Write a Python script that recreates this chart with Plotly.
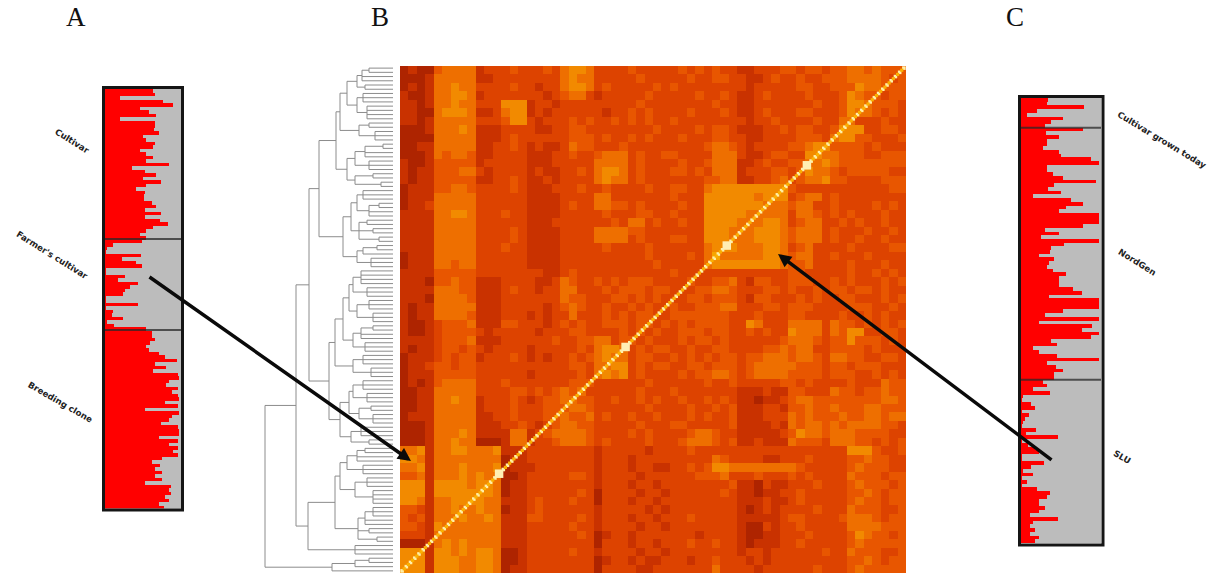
import plotly.graph_objects as go

W, H = 1220, 573

# ---- Panel A: membership (percent red) ----
A_groups = ["Cultivar", "Farmer's cultivar", "Breeding clone"]
A_cultivar = [63,65,19,76,89,46,58,67,20,65,65,64,70,50,53,65,63,46,54,63,54,83,35,52,67,50,73,54,41,52,51,51,62,67,52,73,52,72,82,63,54,46,54]
A_farmer = [48,11,2,1,47,22,41,49,1,1,26,17,43,33,26,24,1,1,43,1,10,9,23,2,12,54]
A_breeding = [61,61,65,59,54,58,70,78,94,65,80,63,96,97,83,80,96,87,96,97,78,96,52,97,87,83,73,96,97,97,70,96,83,96,89,96,74,61,72,65,75,65,74,52,86,83,86,78,83,70,77]

# ---- Panel C: membership (percent red) ----
C_groups = ["Cultivar grown today", "NordGen", "SLU"]
C_today = [34,32,79,20,7,52,38,30]
C_nordgen = [77,31,48,32,33,28,48,50,87,98,33,32,40,52,94,41,34,50,15,62,77,56,47,98,98,98,77,30,48,25,98,54,38,36,23,41,35,32,40,56,47,48,47,65,76,35,98,98,98,52,30,98,23,89,76,98,87,38,45,15,22,45,98,32,44,52,41,41]
C_slu = [28,33,15,36,3,1,12,17,1,10,5,3,1,19,6,46,1,9,18,22,1,1,29,12,3,15,1,8,1,20,36,32,22,23,30,22,11,46,15,11,18,11,22,18]

# ---- Panel B: kinship heat map, levels (top row first) ----
heat_rows = [
"1211 45555 233 343 3343 5665 3333 4333 334343 433 223334 43443 44554 5444",
"1112 55555 223 333 3333 5655 3333 3433 333433 443 322343 34334 44555 5434",
"1212 55655 333 343 3233 5665 3433 3334 343333 333 323333 34433 44465 5444",
"2112 55665 233 333 3323 4553 2333 3343 333343 343 223433 33433 34654 4344",
"2212 55655 333 666 2332 3333 3333 3433 333333 433 223333 33343 34665 4443",
"2211 56665 223 566 2323 3333 3233 4343 333433 343 223433 34433 34655 4343",
"2212 55555 333 466 3233 3434 3343 4343 343333 333 323343 33343 35533 3433",
"1112 55565 222 333 3223 3443 3333 3334 333343 443 222334 34433 46663 3443",
"1111 55555 222 343 3333 3444 3433 4343 334333 443 322333 34443 56644 3334",
"1122 55555 223 343 2322 3544 3334 3333 333334 554 323333 44566 44443 4333",
"1112 54554 223 333 2223 3433 4555 3433 443333 555 322344 33665 54443 3444",
"2112 44444 233 333 2223 3333 5555 3433 334334 555 223433 44556 54444 4444",
"2122 44455 323 333 2322 3343 5665 3433 344343 555 233344 34655 43444 4433",
"2122 44444 223 343 2232 3333 5655 3433 333334 455 223345 34556 44333 3444",
"1222 44554 333 343 2223 3343 3433 3343 344335 666 666666 43333 33333 3344",
"1222 55555 333 333 2222 3333 5533 3333 343336 666 665666 34553 43333 3333",
"1223 55555 333 333 2222 3433 5544 3433 334336 666 666555 45533 43333 4343",
"2222 55665 333 433 2222 3333 3433 3443 343336 666 655555 35543 43433 3433",
"2222 55555 333 333 2223 3333 3343 5534 334336 666 555665 34553 34343 3433",
"2222 55555 333 343 2222 3333 5555 4433 333336 665 556665 45553 43334 3343",
"2222 55555 333 343 2222 3333 5555 3433 344336 665 556665 45553 43343 3433",
"2222 55555 333 433 2222 3333 3433 3343 333335 666 555665 34533 33433 3344",
"1222 55555 333 333 2222 3333 3333 3343 333435 755 555665 45533 43334 3333",
"1222 55455 333 333 2222 3333 3333 3334 333335 666 666665 44533 33433 3433",
"2222 44444 333 333 3322 3433 3333 3333 343333 333 333333 44333 33433 4343",
"2221 44544 222 333 3223 5433 4343 4443 333433 445 324433 44433 43433 3434",
"2222 55544 222 343 3233 5533 3434 4434 433344 554 333443 43343 44344 3433",
"2221 55554 222 333 3333 5443 3344 3434 333443 444 324433 34343 34433 3434",
"2122 55555 222 333 3323 4543 3433 4343 343344 455 333443 44433 33444 3343",
"2122 55554 222 333 2323 3533 3434 3443 344444 443 334333 44333 34334 3433",
"2112 34445 222 443 3323 4343 3444 3443 434344 443 365333 55553 54434 3434",
"2112 34444 323 333 3233 3443 3334 3434 334443 443 343433 65553 54663 3443",
"2222 34445 222 333 3334 3344 5534 4343 334344 343 333334 55543 44644 4343",
"2122 34434 323 333 2333 3343 5665 3434 433433 443 333445 45533 44443 4333",
"1222 34344 233 343 2323 3434 5655 3443 343434 344 344555 45543 55443 3443",
"1223 44344 333 333 3333 3443 5566 3434 433443 444 345555 54443 44344 4333",
"1222 44444 333 333 2333 3343 5656 3433 334344 554 345555 44443 44433 4343",
"1212 45555 333 433 3333 3444 3333 3343 333334 334 333334 43433 33433 3544",
"1122 55555 333 344 3434 5453 3333 3433 343333 333 222322 44333 54434 4544",
"1122 55655 233 343 2344 5544 3343 3434 334334 343 221223 45544 44444 4554",
"1122 55555 233 343 3344 4554 3333 3343 333433 434 222332 44544 54445 5444",
"1222 55555 223 343 3344 5445 3433 4334 333434 334 222333 54544 45445 5455",
"1112 55555 222 334 3234 5544 3333 3433 344333 334 222232 54554 54555 5443",
"1112 55565 222 255 2345 5554 3333 4343 333455 433 222223 46554 55544 4433",
"1112 55655 111 255 2334 5554 3433 3343 334555 434 223222 54443 55544 3434",
"5562 55665 556 222 3333 3333 2333 3323 333433 333 333333 33333 33666 4334",
"6652 55555 555 122 3333 3333 2333 2333 333333 543 333223 33433 33445 4433",
"5562 55565 556 122 2333 3333 2333 2332 233434 665 555555 54333 33454 4433",
"4452 55565 655 112 3333 3443 2333 3233 333344 453 334333 43433 33544 4344",
"6662 66665 665 122 3333 3333 2333 2332 333333 334 221322 33343 33454 4434",
"6662 66666 665 122 3333 3343 1333 3233 233333 343 221223 34333 33445 4344",
"6652 55666 655 222 3433 3433 1333 2332 333333 333 222322 34333 33454 4344",
"4432 55655 655 122 3433 3333 2333 3323 233333 333 212323 33343 33544 4334",
"4342 55565 565 222 4433 3343 2333 2332 333433 333 222223 44333 34555 4344",
"4432 65555 555 222 3333 3433 2333 3233 233333 333 211323 34333 33555 5444",
"3332 55555 555 222 3333 3343 1233 2333 333323 333 211223 33433 33465 4434",
"1112 56565 555 222 3333 3333 1333 2332 333433 433 212223 34333 33454 4444",
"6662 66565 665 112 3333 3433 2333 3233 233333 333 233233 33334 33544 4334",
"6662 66655 665 112 3333 3333 1233 2322 333233 433 323233 33333 33445 4344",
"6662 66655 665 122 3333 3333 1333 3223 333333 533 332333 33343 33454 4444",
]
heat_colors = ["#8c1500", "#ae2400", "#c93200", "#dd4300", "#e85600", "#ee6f00", "#f28a00", "#f6a400"]
diag_cells = 120
diag_big = [23, 53, 77, 96]

# ---- Dendrogram: (merge height, children...); an int child is that many leaves ----
dendro = (128,
  (97,
    (84,
      (74,
        (57,
          (53,
            (46, (36, (31, (24, 2), 2), (28, 2)), (36, (30, 3), (26, 4))),
            (34, (24, 2), (18, 3))),
          (46, (38, (28, (10, 2), 2), (24, 3)), (38, (20, 2), (12, 2)))),
        (50,
          (42, (36, (30, 3), (24, (14, 2), 2)), (34, (26, 2), (20, 2), (14, 2))),
          (36, (30, (16, 2), 1), (22, 3)))),
      (64,
        (58,
          (50, (44, (40, (32, 4), (26, 3)), (36, (24, 3), (20, 3))), (40, (32, (20, 2), 2), (28, 3))),
          (40, (30, 3), (22, 3))),
        (53,
          (44, (40, (30, 3), (26, 3)), (34, (22, 2), (20, 3))),
          (42, (32, 3), (24, 2))))),
    (85,
      (58,
        (53, (46, (36, (28, 2), 2), (30, 3)), (38, (26, 3), (20, 4))),
        (35, (28, (20, 3), 2), (24, 2), (16, 2))),
      (50, (38, 3)))),
  (61, (38, (24, 2), 1), 1))


def px_x(a, b):
    return [a / W, b / W]


def px_y(top, bottom):
    return [1 - bottom / H, 1 - top / H]


fig = go.Figure()

RED, GRAY = "#ff0000", "#bcbcbc"


def stacked(values, xa, ya):
    ys = [i + 0.5 for i in range(len(values))]
    fig.add_bar(x=values, y=ys, orientation="h", width=1, marker=dict(color=RED, line_width=0),
                xaxis=xa, yaxis=ya, showlegend=False)
    fig.add_bar(x=[100 - v for v in values], y=ys, orientation="h", width=1, marker=dict(color=GRAY, line_width=0),
                xaxis=xa, yaxis=ya, showlegend=False)


A_vals = A_cultivar + A_farmer + A_breeding
C_vals = C_today + C_nordgen + C_slu
stacked(A_vals, "x", "y")
stacked(C_vals, "x4", "y4")

# dendrogram
dx, dy = [], []
next_leaf = [0]


def walk(node):
    h = node[0]
    pos = []
    for child in node[1:]:
        if isinstance(child, int):
            for _ in range(child):
                p = next_leaf[0] + 0.5
                next_leaf[0] += 1
                pos.append(p)
                dx.extend([h, 0, None])
                dy.extend([p, p, None])
        else:
            p, ch = walk(child)
            pos.append(p)
            dx.extend([h, ch, None])
            dy.extend([p, p, None])
    dx.extend([h, h, None])
    dy.extend([pos[0], pos[-1], None])
    return (pos[0] + pos[-1]) / 2, h


walk(dendro)
fig.add_scatter(x=dx, y=dy, mode="lines", line=dict(color="#8c8c8c", width=1), xaxis="x2", yaxis="y2",
                showlegend=False, hoverinfo="skip")

# heat map
z = [[int(c) for c in row.replace(" ", "")] for row in heat_rows]
fig.add_heatmap(z=z, x0=1, dx=2, y0=119, dy=-2, zmin=0, zmax=7,
                colorscale=[[i / 7, c] for i, c in enumerate(heat_colors)],
                showscale=False, xaxis="x3", yaxis="y3")

# diagonal
idx = list(range(diag_cells))
diag_xy = [i + 0.5 for i in idx]
fig.add_scatter(x=diag_xy, y=diag_xy, mode="markers",
                marker=dict(symbol="square", size=3.6, color="#fff0aa", line_width=0),
                xaxis="x3", yaxis="y3", showlegend=False, hoverinfo="skip")
fig.add_scatter(x=[i + 1 for i in idx[:-1]], y=[i + 1 for i in idx[:-1]], mode="markers",
                marker=dict(symbol="square", size=3.2, color="#fbb000", line_width=0),
                xaxis="x3", yaxis="y3", showlegend=False, hoverinfo="skip")
fig.add_scatter(x=[i + 0.5 for i in diag_big], y=[i + 0.5 for i in diag_big], mode="markers",
                marker=dict(symbol="square", size=8.5, color="#ffeeb4", line_width=0),
                xaxis="x3", yaxis="y3", showlegend=False, hoverinfo="skip")

hidden = dict(visible=False, fixedrange=True)
fig.update_layout(
    width=W, height=H, autosize=False, margin=dict(l=0, r=0, t=0, b=0),
    paper_bgcolor="white", plot_bgcolor="white", barmode="stack", bargap=0,
    xaxis=dict(domain=px_x(105, 181.5), range=[0, 100], **hidden),
    yaxis=dict(domain=px_y(88.5, 508.5), range=[120, 0], **hidden),
    xaxis2=dict(domain=px_x(260, 393), range=[133, 0], **hidden),
    yaxis2=dict(domain=px_y(66, 573), range=[120, 0], **hidden),
    xaxis3=dict(domain=px_x(400, 906), range=[0, 120], **hidden),
    yaxis3=dict(domain=px_y(66, 573), range=[0, 120], **hidden),
    xaxis4=dict(domain=px_x(1021, 1101), range=[0, 100], **hidden),
    yaxis4=dict(domain=px_y(98, 543), range=[120, 0], **hidden),
)

shapes = []
for xa, ya, box, groups in [
    ("x", "y", (103.5, 87.5, 182.5, 510), [len(A_cultivar), len(A_cultivar) + len(A_farmer)]),
    ("x4", "y4", (1019.5, 96.5, 1103, 545), [len(C_today), len(C_today) + len(C_nordgen)]),
]:
    for g in groups:
        shapes.append(dict(type="line", xref=xa + " domain", x0=0, x1=1, yref=ya, y0=g, y1=g,
                           line=dict(color="rgba(40,40,40,0.75)", width=2)))
    x0, y0, x1, y1 = box
    shapes.append(dict(type="rect", xref="paper", yref="paper", x0=x0 / W, x1=x1 / W, y0=1 - y0 / H, y1=1 - y1 / H,
                       line=dict(color="#151515", width=3), fillcolor="rgba(0,0,0,0)"))
fig.update_layout(shapes=shapes)

annots = []


def label(text, x, y, angle):
    annots.append(dict(text=text, x=x / W, y=1 - y / H, xref="paper", yref="paper", showarrow=False,
                       textangle=angle, xanchor="center", yanchor="middle",
                       font=dict(family="DejaVu Sans", size=8.6, color="#222222", weight="bold")))


label(A_groups[0], 72, 141, 32)
label(A_groups[1], 52, 255, 32)
label(A_groups[2], 60, 402, 30)
label(C_groups[0], 1162, 140, 31)
label(C_groups[1], 1137, 262, 32)
label(C_groups[2], 1122, 457, 30)

for t, x in [("A", 76), ("B", 380), ("C", 1015)]:
    annots.append(dict(text=t, x=x / W, y=1 - 17 / H, xref="paper", yref="paper", showarrow=False,
                       xanchor="center", yanchor="middle",
                       font=dict(family="Liberation Serif", size=27, color="#111111")))

for (tx, ty, hx, hy) in [(148, 276, 411, 461), (1053, 461, 778, 254)]:
    annots.append(dict(text="", x=hx / W, y=1 - hy / H, xref="paper", yref="paper",
                       ax=tx - hx, ay=ty - hy, axref="pixel", ayref="pixel",
                       showarrow=True, arrowhead=2, arrowsize=0.75, arrowwidth=3.5, arrowcolor="#0a0a0a"))
fig.update_layout(annotations=annots)

fig.write_html("out.html", config=dict(displayModeBar=False), post_script="document.body.style.margin='0';")
